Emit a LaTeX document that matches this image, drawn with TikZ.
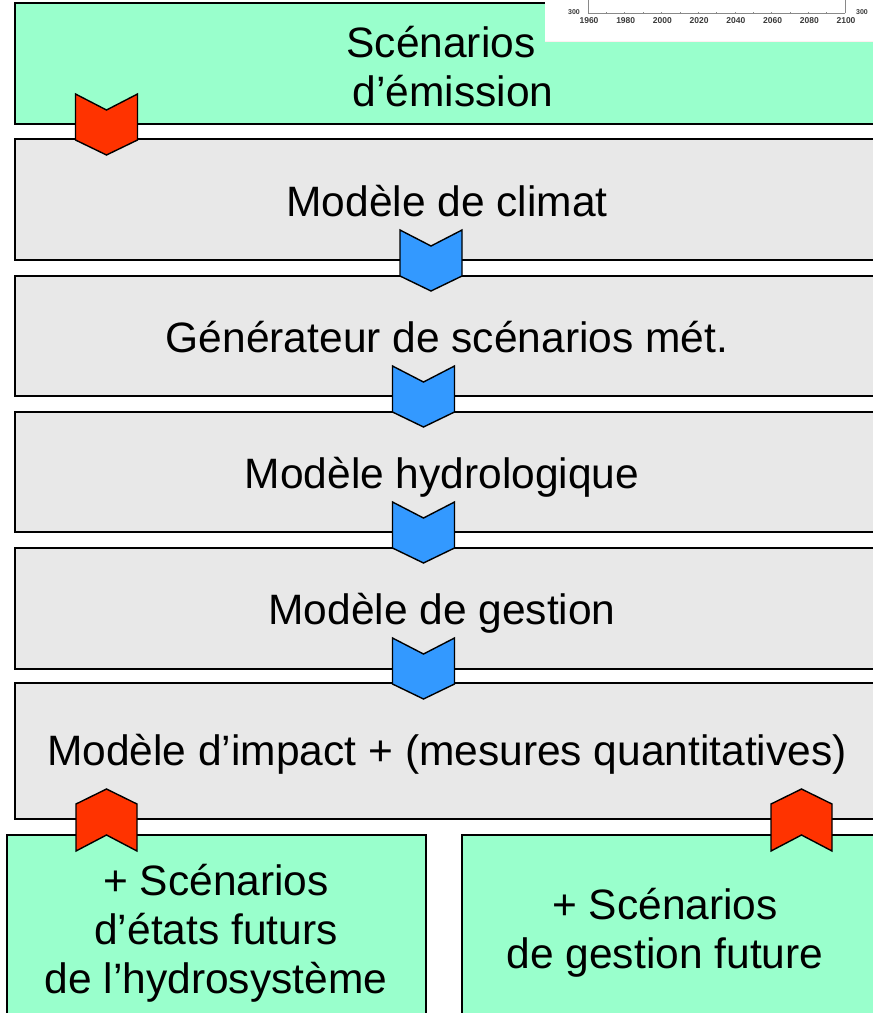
\documentclass[tikz,border=0pt]{standalone}
\usepackage{fontspec}
\setmainfont{Liberation Sans}
\definecolor{boxgreen}{HTML}{99FFCC}
\definecolor{boxgray}{HTML}{E8E8E8}
\definecolor{chevred}{HTML}{FF3300}
\definecolor{chevblue}{HTML}{3399FF}
\definecolor{axisgray}{HTML}{3A3A3A}
\tikzset{
  stagebox/.style={draw=black, line width=1.6pt, fill=#1, rectangle, inner sep=0pt},
  stagetext/.style={anchor=base, inner sep=0pt, font=\fontsize{42.5}{49}\selectfont},
  yearlabel/.style={font=\fontsize{8.5}{9}\selectfont\bfseries, text=axisgray, inner sep=0pt},
  smalllabel/.style={font=\fontsize{7}{8}\selectfont\bfseries, text=axisgray, inner sep=0pt},
  pics/chevdown/.style={code={
    \draw[fill=#1, line width=1.4pt, line join=miter]
      (-31,-61) -- (0,-45) -- (31,-61) -- (31,-15) -- (0,0) -- (-31,-15) -- cycle;}},
  pics/chevup/.style={code={
    \draw[fill=#1, line width=1.4pt, line join=miter]
      (-30.5,15) -- (0,0) -- (30.5,15) -- (30.5,62) -- (0,46) -- (-30.5,62) -- cycle;}},
}
\begin{document}
\begin{tikzpicture}[x=1pt,y=-1pt]
\useasboundingbox (0,0) rectangle (873,1013);
\clip (0,0) rectangle (873,1013);
\fill[white] (0,0) rectangle (873,1013);

% boxes
\node[stagebox=boxgreen, minimum width=865pt, minimum height=121pt] (b1) at (447.5,63.5) {};
\node[stagebox=boxgray, minimum width=865pt, minimum height=121pt] (b2) at (447.5,199.5) {};
\node[stagebox=boxgray, minimum width=865pt, minimum height=120pt] (b3) at (447.5,336) {};
\node[stagebox=boxgray, minimum width=865pt, minimum height=120pt] (b4) at (447.5,472) {};
\node[stagebox=boxgray, minimum width=865pt, minimum height=121pt] (b5) at (447.5,608.5) {};
\node[stagebox=boxgray, minimum width=865pt, minimum height=136pt] (b6) at (447.5,751) {};
\node[stagebox=boxgreen, minimum width=419pt, minimum height=188pt] (b7) at (216.5,929) {};
\node[stagebox=boxgreen, minimum width=428pt, minimum height=188pt] (b8) at (676,929) {};

% texts (one node per line, placed on its baseline)
\node[stagetext] (t1a) at (441,57) {Scénarios};
\node[stagetext] (t1b) at (453,106) {d’émission};
\node[stagetext] (t2) at (447,216) {Modèle de climat};
\node[stagetext] (t3) at (447,352) {Générateur de scénarios mét.};
\node[stagetext] (t4) at (442,488) {Modèle hydrologique};
\node[stagetext] (t5) at (442,624.5) {Modèle de gestion};
\node[stagetext] (t6) at (447,765) {Modèle d’impact + (mesures quantitatives)};
\node[stagetext] (t7a) at (216,895) {+ Scénarios};
\node[stagetext] (t7b) at (216,944) {d’états futurs};
\node[stagetext] (t7c) at (216,993) {de l’hydrosystème};
\node[stagetext] (t8a) at (665,919) {+ Scénarios};
\node[stagetext] (t8b) at (665,968) {de gestion future};

% chart fragment (top right)
\fill[white] (545,0) rectangle (873,42);
\fill[red!6] (545,40.5) rectangle (873,42);
\coordinate (axL) at (588,13.3);
\coordinate (axR) at (845,13.3);
\draw[axisgray!60, line width=0.7pt] (axL) -- (axR);
\draw[axisgray!60, line width=0.7pt] (axL) -- (588,0);
\draw[axisgray!60, line width=0.7pt] (axR) -- (845,0);
\foreach \i in {1,...,13} {
  \draw[axisgray!60, line width=0.5pt] ({588+\i*257/14},13.3) -- ({588+\i*257/14},11.8);
}
\node[smalllabel] (y300l) at (574,12.3) {300};
\node[smalllabel] (y300r) at (862,12) {300};
\foreach \yr [count=\k from 0] in {1960,1980,2000,2020,2040,2060,2080,2100} {
  \node[yearlabel] (yr\k) at ({589+\k*257/7},20.7) {\yr};
}

% chevrons
\coordinate (c1) at (106.5,155);
\coordinate (c2) at (431,291);
\coordinate (c3) at (423.5,427);
\coordinate (c4) at (423.5,563);
\coordinate (c5) at (423.5,699);
\coordinate (u1) at (106.5,789);
\coordinate (u2) at (801.5,789);
\pic at (c1) {chevdown=chevred};
\pic at (c2) {chevdown=chevblue};
\pic at (c3) {chevdown=chevblue};
\pic at (c4) {chevdown=chevblue};
\pic at (c5) {chevdown=chevblue};
\pic at (u1) {chevup=chevred};
\pic at (u2) {chevup=chevred};
\end{tikzpicture}
\end{document}
